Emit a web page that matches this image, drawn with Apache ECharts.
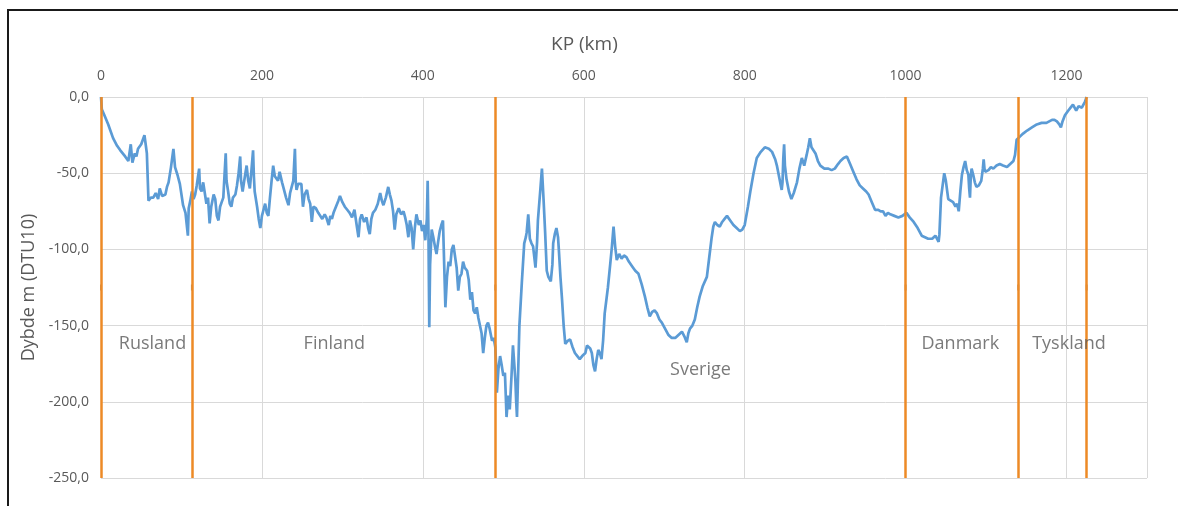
<!DOCTYPE html>
<html>
<head>
<meta charset="utf-8">
<script src="https://cdn.jsdelivr.net/npm/echarts@6/dist/echarts.min.js"></script>
<style>
  html, body { margin: 0; padding: 0; background: #fff; }
  #main { width: 1178px; height: 506px; }
</style>
</head>
<body>
<div id="main"></div>
<script>
// KP (km) and depth (m, DTU10)
var profile = [
  [0,0],[1,-8],[5,-13],[9,-18],[15,-27],[20,-32],[24,-35],[30,-39],[34,-42],[37,-31],[39,-43],[42,-37],[44,-39],[46,-34],[50,-31],[54,-25],[56,-33],[57,-37],
  [59,-68],[62,-66],[65,-66],[68,-63],[71,-67],[73,-60],[76,-65],[80,-64],[82,-59],[84,-56],[87,-46],[90,-34],[92,-46],[95,-51],[98,-57],[102,-71],[105,-76],
  [107,-75],[108,-91],[109,-73],[111,-68],[113,-62],[115,-67],[117,-64],[119,-58],[122,-47],[123,-60],[125,-62],[127,-56],[129,-55],[131,-70],[133,-66],
  [135,-83],[137,-72],[140,-64],[142,-67],[144,-78],[146,-81],[148,-72],[150,-69],[152,-66],[155,-37],[156,-55],[158,-62],[160,-70],[162,-72],[164,-66],
  [167,-64],[169,-58],[171,-50],[173,-39],[174,-55],[176,-62],[178,-55],[181,-45],[183,-55],[185,-60],[187,-48],[189,-35],[190,-52],[191,-62],[194,-72],
  [196,-80],[198,-86],[200,-78],[202,-74],[204,-70],[206,-76],[208,-78],[210,-66],[212,-55],[214,-45],[216,-52],[218,-51],[220,-55],[222,-49],[225,-56],
  [227,-60],[230,-66],[233,-71],[235,-63],[237,-59],[239,-55],[241,-34],[242,-55],[243,-61],[245,-57],[247,-58],[249,-57],[251,-72],[253,-64],[256,-61],
  [258,-67],[260,-70],[262,-82],[264,-72],[267,-73],[270,-76],[272,-75],[275,-80],[278,-77],[280,-79],[283,-84],[285,-78],[287,-80],[289,-76],[292,-72],
  [295,-68],[297,-65],[300,-69],[303,-72],[306,-74],[309,-76],[312,-79],[315,-74],[318,-85],[320,-92],[322,-80],[324,-77],[327,-82],[330,-79],[332,-86],
  [334,-90],[336,-80],[338,-76],[341,-74],[344,-70],[347,-63],[349,-68],[351,-71],[354,-66],[357,-59],[359,-64],[361,-68],[363,-75],[365,-87],[367,-77],
  [370,-73],[373,-77],[376,-75],[378,-79],[380,-84],[382,-92],[384,-81],[386,-86],[388,-100],[390,-86],[392,-77],[395,-84],[397,-81],[399,-88],[401,-84],
  [403,-94],[405,-80],[406,-55],[407,-90],[408,-151],[409,-110],[411,-87],[413,-92],[415,-98],[417,-103],[419,-95],[421,-88],[423,-84],[425,-81],[426,-100],
  [428,-138],[430,-118],[432,-108],[434,-111],[436,-100],[438,-97],[440,-96],[442,-112],[444,-127],[446,-118],[448,-116],[450,-108],[452,-112],[455,-114],
  [457,-120],[459,-133],[461,-128],[463,-140],[465,-142],[467,-138],[469,-145],[471,-146],[473,-155],[475,-168],[477,-158],[479,-150],[481,-148],[483,-152],
  [486,-160],[488,-158],[490,-164],[491,-175],[492,-194],[494,-178],[496,-170],[498,-176],[500,-183],[502,-181],[503,-195],[504,-210],[506,-196],[508,-205],
  [510,-185],[512,-163],[514,-178],[515,-186],[516,-200],[517,-210],[518,-190],[519,-170],[520,-150],[523,-122],[526,-96],[528,-92],[529,-89],[531,-77],
  [533,-93],[535,-96],[537,-98],[540,-112],[542,-95],[543,-81],[546,-61],[548,-47],[550,-67],[552,-89],[554,-114],[556,-118],[559,-121],[561,-110],[562,-96],
  [564,-90],[566,-86],[568,-92],[569,-100],[571,-118],[573,-133],[575,-150],[577,-162],[580,-160],[583,-159],[586,-164],[589,-168],[592,-170],[595,-172],
  [598,-170],[602,-168],[604,-163],[606,-162],[608,-165],[610,-168],[612,-176],[614,-180],[616,-172],[618,-166],[620,-168],[622,-172],[624,-160],[626,-142],
  [630,-125],[633,-109],[635,-98],[637,-85],[639,-98],[641,-107],[644,-103],[647,-106],[650,-104],[653,-105],[656,-108],[660,-111],[664,-114],[668,-116],
  [672,-123],[676,-131],[679,-138],[682,-144],[685,-141],[688,-140],[691,-142],[694,-146],[697,-148],[701,-152],[705,-156],[709,-158],[714,-158],[718,-156],
  [722,-154],[725,-157],[728,-161],[730,-155],[732,-152],[735,-150],[738,-146],[741,-138],[744,-131],[748,-124],[753,-118],[756,-105],[759,-92],[761,-85],
  [763,-82],[766,-84],[769,-85],[772,-82],[775,-80],[778,-78],[782,-81],[786,-84],[790,-86],[794,-88],[797,-87],[800,-84],[804,-72],[807,-62],[811,-50],
  [815,-40],[820,-36],[825,-33],[830,-34],[834,-36],[838,-41],[840,-45],[843,-53],[846,-61],[847,-56],[848,-40],[849,-31],[850,-45],[852,-54],[855,-62],
  [858,-67],[861,-63],[865,-56],[868,-47],[871,-40],[874,-45],[877,-38],[879,-33],[881,-27],[883,-33],[885,-34],[888,-37],[891,-42],[894,-45],[899,-47],
  [904,-47],[908,-48],[912,-47],[916,-44],[919,-42],[923,-40],[927,-39],[931,-44],[935,-49],[939,-54],[943,-58],[947,-60],[951,-62],[954,-64],[958,-69],
  [962,-74],[966,-74],[969,-75],[972,-75],[975,-78],[978,-76],[981,-77],[986,-78],[991,-79],[996,-78],[1001,-76],[1005,-79],[1010,-82],[1015,-86],[1020,-91],
  [1024,-92],[1028,-93],[1033,-93],[1037,-91],[1039,-91],[1041,-95],[1042,-90],[1044,-66],[1046,-58],[1048,-50],[1050,-55],[1053,-67],[1056,-68],[1059,-69],
  [1062,-72],[1064,-70],[1066,-75],[1068,-62],[1070,-51],[1072,-46],[1074,-42],[1076,-48],[1078,-51],[1079,-60],[1080,-66],[1081,-52],[1082,-47],[1084,-51],
  [1086,-56],[1088,-59],[1091,-58],[1094,-55],[1096,-47],[1097,-41],[1098,-47],[1099,-49],[1103,-48],[1106,-46],[1109,-47],[1113,-45],[1117,-44],[1121,-45],
  [1126,-46],[1130,-44],[1134,-42],[1136,-38],[1138,-28],[1142,-26],[1146,-24],[1151,-22],[1157,-20],[1163,-18],[1169,-17],[1175,-17],[1182,-15],[1185,-15],
  [1188,-16],[1191,-18],[1193,-20],[1195,-16],[1198,-12],[1202,-9],[1205,-7],[1208,-5],[1210,-7],[1212,-9],[1215,-6],[1217,-5],[1219,-7],[1221,-6],[1223,-3],[1225,0]
];

// country borders along the route (KP km)
var borderKm = [0, 113, 490, 1000, 1140, 1225];

// country labels and where they sit
var countryNames = ['Rusland', 'Finland', 'Sverige', 'Danmark', 'Tyskland'];
var countryKm = [64, 290, 745, 1068, 1203];
var countryDepth = [-162, -162, -179, -162, -162];

var FONT = '"Open Sans", sans-serif';
var TXT = '#595959';

var myChart = echarts.init(document.getElementById('main'));

var option = {
  animation: false,
  backgroundColor: '#fff',
  title: {
    text: 'KP (km)',
    left: 546, top: 30,
    textStyle: { fontFamily: FONT, fontSize: 19, fontWeight: 'normal', color: TXT }
  },
  graphic: [{
    type: 'rect',
    shape: { x: 8, y: 10, width: 1200, height: 520 },
    style: { fill: 'none', stroke: '#1a1a1a', lineWidth: 2 },
    silent: true
  }],
  grid: { left: 101, top: 97, right: 31, bottom: 28 },
  xAxis: {
    type: 'value',
    position: 'top',
    min: 0, max: 1300, interval: 200,
    axisLine: { show: false },
    axisTick: { show: false },
    axisLabel: {
      fontFamily: FONT, fontSize: 14, color: TXT, margin: 14,
      showMaxLabel: false,
      formatter: function (v) { return v > 1200 ? '' : String(v); }
    },
    splitLine: { show: true, lineStyle: { color: '#d9d9d9', width: 1 } }
  },
  yAxis: {
    type: 'value',
    min: -250, max: 0, interval: 50,
    name: 'Dybde m (DTU10)',
    nameLocation: 'middle',
    nameGap: 57,
    nameTextStyle: { fontFamily: FONT, fontSize: 18, color: TXT },
    axisLine: { show: false },
    axisTick: { show: false },
    axisLabel: {
      fontFamily: FONT, fontSize: 14, color: TXT, margin: 12,
      formatter: function (v) { return v.toFixed(1).replace('.', ','); }
    },
    splitLine: { show: true, lineStyle: { color: '#d9d9d9', width: 1 } }
  },
  series: [
    {
      name: 'Dybde',
      type: 'line',
      data: profile,
      showSymbol: false,
      z: 2,
      lineStyle: { color: '#5b9bd5', width: 2.7 }
    },
    {
      name: 'Grænser',
      type: 'line',
      data: [],
      z: 3,
      markLine: {
        silent: true,
        symbol: ['none', 'none'],
        label: { show: false },
        lineStyle: { color: '#ed8a26', width: 2.5, type: 'solid' },
        data: borderKm.map(function (k) { return { xAxis: k }; })
      }
    },
    {
      name: 'Mærker',
      type: 'scatter',
      z: 4,
      symbol: 'rect',
      symbolSize: [2, 6],
      itemStyle: { color: '#9a7a55' },
      data: borderKm.map(function (k) { return [k, -125]; })
    },
    {
      name: 'Lande',
      type: 'scatter',
      symbolSize: 0,
      z: 5,
      label: {
        show: true,
        position: 'inside',
        fontFamily: FONT, fontSize: 18, color: TXT,
        formatter: function (p) { return countryNames[p.dataIndex]; }
      },
      data: countryKm.map(function (k, i) { return [k, countryDepth[i]]; })
    }
  ]
};

myChart.setOption(option);
</script>
</body>
</html>
